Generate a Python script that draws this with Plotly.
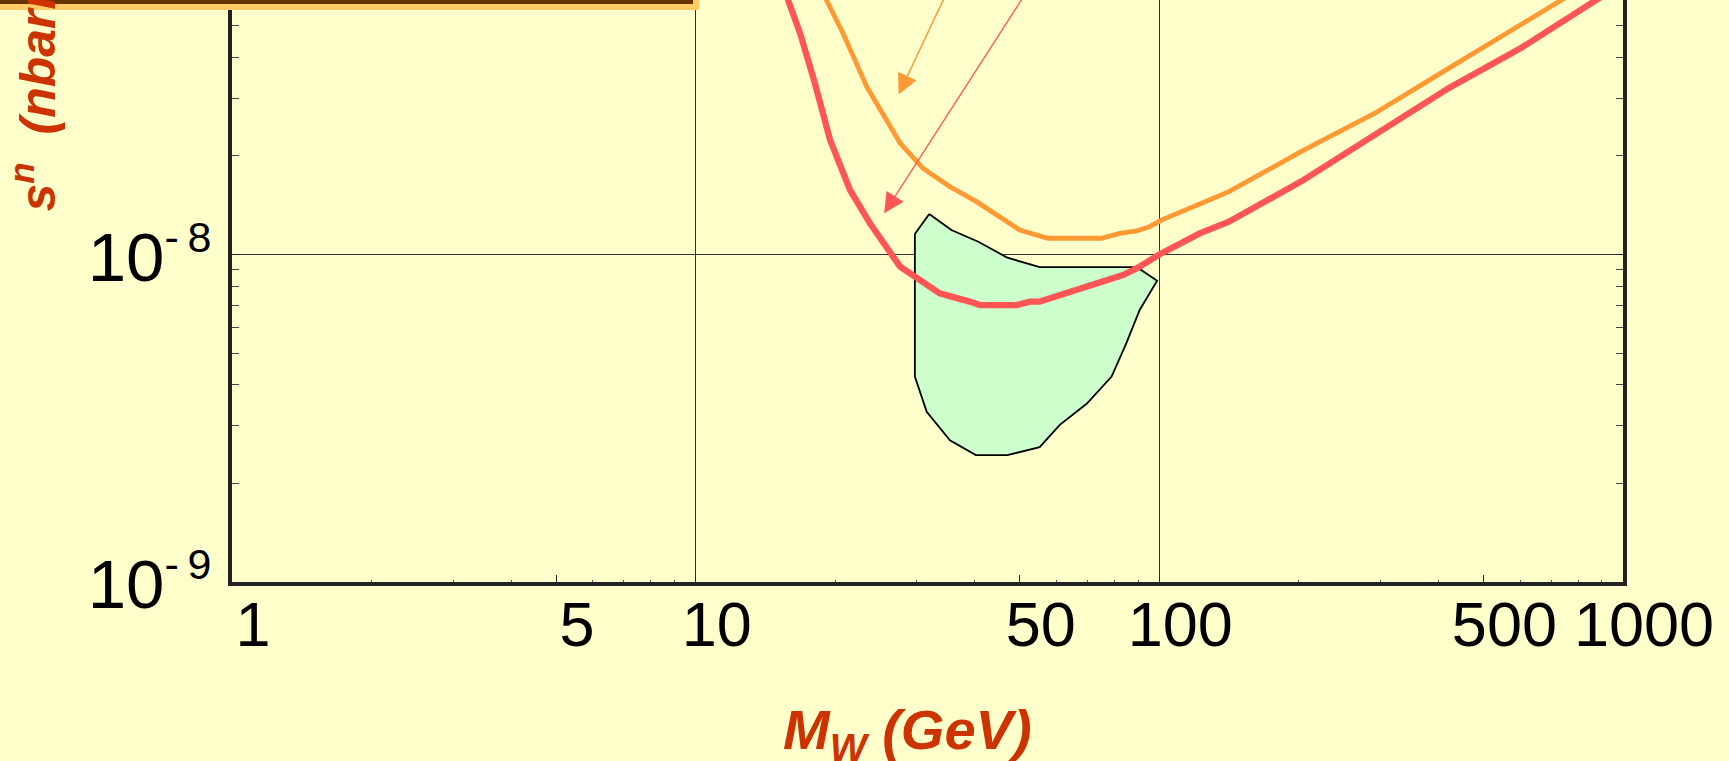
import math
import plotly.graph_objects as go

# ---------------- data ----------------
red_x = [15.2, 15.85, 16.8, 18.08, 19.49, 21.52, 23.76, 27.6, 30.45, 33.6, 39.0, 41.0,
         49.2, 52.6, 55.2, 68.5, 83.5, 89.3, 95.3, 100, 122.2, 141.3, 202, 291.7, 420.5,
         601, 875, 1000]
red_y = [7.0e-8, 5.98e-8, 4.73e-8, 3.33e-8, 2.24e-8, 1.574e-8, 1.245e-8, 9.18e-9, 8.36e-9,
         7.61e-9, 7.18e-9, 7.01e-9, 7.01e-9, 7.18e-9, 7.18e-9, 7.88e-9, 8.66e-9, 9.07e-9,
         9.6e-9, 1.0e-8, 1.16e-8, 1.26e-8, 1.67e-8, 2.32e-8, 3.22e-8, 4.26e-8, 5.98e-8, 6.75e-8]

orange_x = [18.3, 19.16, 20.8, 23.4, 27.6, 30.95, 35.35, 40.35, 50.0, 57.5, 75.0, 82.1,
            89.3, 95.3, 101, 122.2, 141.3, 202, 291.7, 420.5, 596, 736, 850]
orange_y = [6.8e-8, 5.98e-8, 4.73e-8, 3.25e-8, 2.19e-8, 1.83e-8, 1.61e-8, 1.45e-8, 1.188e-8,
            1.121e-8, 1.121e-8, 1.16e-8, 1.18e-8, 1.216e-8, 1.274e-8, 1.426e-8, 1.555e-8,
            2.06e-8, 2.70e-8, 3.70e-8, 5.02e-8, 5.98e-8, 6.75e-8]

region_x = [31.9, 29.7, 29.7, 31.5, 35.35, 40.2, 47.0, 55.2, 61.0, 69.7, 78.9, 84.9, 90.7,
            98.9, 89.5, 55.2, 47.0, 40.7, 35.6, 31.9]
region_y = [1.33e-8, 1.155e-8, 4.24e-9, 3.31e-9, 2.71e-9, 2.44e-9, 2.44e-9, 2.58e-9, 3.02e-9,
            3.50e-9, 4.24e-9, 5.36e-9, 6.77e-9, 8.32e-9, 9.15e-9, 9.15e-9, 9.78e-9, 1.094e-8,
            1.188e-8, 1.33e-8]

# arrows: tip (x, y) and tail (x, y), in data units
orange_arrow_tip = (27.4, 3.08e-8)
orange_arrow_tail = (36.7, 7.4e-8)
red_arrow_tip = (25.5, 1.336e-8)
red_arrow_tail = (55.5, 7.4e-8)

x_tickvals = [1, 5, 10, 50, 100, 500, 1000]
x_ticktext = ["1", "5", "10", "50", "100", "500", "1000"]
x_gridvals = [10, 100]
y_tickvals = [1e-9, 1e-8]
y_ticktext = ["10<sup><span style='font-size:43px'>-\u20099</span></sup>",
              "10<sup><span style='font-size:43px'>-\u20098</span></sup>"]

x_title = "M<sub>W</sub> (GeV)"
y_title = "s<sup>n</sup>&nbsp; (nbarn)"

# ---------------- style ----------------
BG = "#FFFFCC"
RED = "#FF5555"
ORANGE = "#FF9933"
GREEN = "#CCFFCC"
TITLE_C = "#CC3300"
AX_C = "#222222"
FONT = "Liberation Sans, Arial, sans-serif"

W, H = 1729, 761
ML, MR, MT, MB = 232, 106, 0, 179
PW, PH = W - ML - MR, H - MT - MB

fig = go.Figure()

fig.add_trace(go.Scatter(x=region_x, y=region_y, mode="lines", fill="toself",
                         fillcolor=GREEN, line=dict(color="black", width=1.8),
                         showlegend=False, hoverinfo="skip"))
fig.add_trace(go.Scatter(x=orange_x, y=orange_y, mode="lines",
                         line=dict(color=ORANGE, width=4.8), showlegend=False))
fig.add_trace(go.Scatter(x=red_x, y=red_y, mode="lines",
                         line=dict(color=RED, width=6.3), showlegend=False))
# empty trace so the overlay axis (grid lines at 10 and 100) exists
fig.add_trace(go.Scatter(x=[], y=[], xaxis="x2", yaxis="y", showlegend=False))

yr = [-9, -9 + PH / 327.5]

fig.update_layout(
    width=W, height=H,
    margin=dict(l=ML, r=MR, t=MT, b=MB, pad=0),
    paper_bgcolor=BG, plot_bgcolor=BG,
    font=dict(family=FONT, color="black"),
    xaxis=dict(type="log", range=[0, 3], tickmode="array", tickvals=x_tickvals,
               ticktext=x_ticktext, ticks="inside", ticklen=7, tickwidth=1, tickcolor=AX_C,
               tickfont=dict(size=63, family=FONT, color="black"),
               ticklabelshift=21, ticklabelstandoff=-15,
               showgrid=False, zeroline=False, showline=True, linewidth=3.5, linecolor=AX_C,
               mirror=False,
               minor=dict(dtick="D1", ticks="inside", ticklen=2.5, tickwidth=1,
                          tickcolor="#555555", showgrid=False)),
    xaxis2=dict(type="log", range=[0, 3], overlaying="x", anchor="y", side="bottom",
                tickmode="array", tickvals=x_gridvals, showticklabels=False, ticks="",
                showgrid=True, gridcolor="#333333", gridwidth=1, showline=False,
                zeroline=False),
    yaxis=dict(type="log", range=yr, tickmode="array", tickvals=y_tickvals,
               ticktext=y_ticktext, ticks="inside", ticklen=7, tickwidth=1, tickcolor=AX_C,
               tickfont=dict(size=69, family=FONT, color="black"),
               ticklabelshift=2, ticklabelstandoff=3,
               showgrid=True, gridcolor="#333333", gridwidth=1, zeroline=False,
               showline=True, linewidth=3.8, linecolor=AX_C, mirror="allticks",
               minor=dict(dtick="D1", ticks="inside", ticklen=7, tickwidth=1,
                          tickcolor="#444444", showgrid=False)),
)

def lg(v):
    return math.log10(v)

arrows = [(orange_arrow_tip, orange_arrow_tail, ORANGE, 1.5, 2.7),
          (red_arrow_tip, red_arrow_tail, RED, 1.3, 3.1)]
for tip, tail, col, w, s in arrows:
    fig.add_annotation(x=lg(tip[0]), y=lg(tip[1]), ax=lg(tail[0]), ay=lg(tail[1]),
                       xref="x", yref="y", axref="x", ayref="y", text="",
                       showarrow=True, arrowhead=2, arrowsize=s, arrowwidth=w,
                       arrowcolor=col, standoff=0)

# axis titles
fig.add_annotation(text=x_title, xref="paper", yref="paper",
                   x=(907 - ML) / PW, y=1 - (733 - MT) / PH, xanchor="center",
                   yanchor="middle", showarrow=False,
                   font=dict(family=FONT, size=56, color=TITLE_C, weight="bold",
                             style="italic"))
fig.add_annotation(text=y_title, xref="paper", yref="paper", textangle=-90,
                   x=(33 - ML) / PW, y=1 - (214 - MT) / PH, xanchor="center",
                   yanchor="bottom", showarrow=False,
                   font=dict(family=FONT, size=50, color=TITLE_C, weight="bold",
                             style="italic"))

# framed box partly visible at the top-left corner
fig.add_shape(type="rect", xref="paper", yref="paper", layer="above",
              x0=(-20 - ML) / PW, x1=(696 - ML) / PW,
              y0=1 - (7 - MT) / PH, y1=1 + 30 / PH,
              fillcolor="#663300", line=dict(color="#FFCC66", width=6))

fig.write_html("out.html", config={"displayModeBar": False},
               post_script="document.body.style.margin='0';")
